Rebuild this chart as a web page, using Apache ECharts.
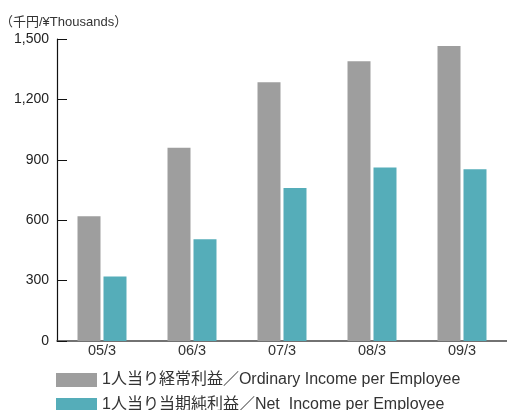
<!DOCTYPE html>
<html>
<head>
<meta charset="utf-8">
<script src="https://cdn.jsdelivr.net/npm/echarts@6/dist/echarts.min.js"></script>
<style>
  html, body { margin: 0; padding: 0; background: #fff; }
  #main { width: 507px; height: 410px; }
</style>
</head>
<body>
<div id="main"></div>
<script>
// 決算期
var categories = ["05/3", "06/3", "07/3", "08/3", "09/3"];
// 1人当り経常利益 (千円)
var ordinaryIncome = [620, 960, 1285, 1390, 1465];
// 1人当り当期純利益 (千円)
var netIncome = [320, 505, 760, 862, 853];
var seriesNames = ["1人当り経常利益／Ordinary Income per Employee", "1人当り当期純利益／Net  Income per Employee"];
var unitLabel = "（千円/¥Thousands）";

var font = "'Liberation Sans', 'Noto Sans CJK JP', sans-serif";
var myChart = echarts.init(document.getElementById("main"));

// 凡例は1行ずつ
function makeLegend(name, top) {
  return {
    left: 56,
    top: top,
    padding: 0,
    itemWidth: 41,
    itemHeight: 14,
    itemGap: 6,
    icon: "rect",
    data: [name],
    textStyle: { fontFamily: font, fontSize: 16, color: "#333" }
  };
}

var option = {
  animation: false,
  title: {
    text: unitLabel,
    left: 0,
    top: 16,
    padding: 0,
    textStyle: { fontFamily: font, fontSize: 13, fontWeight: "normal", color: "#333" }
  },
  legend: [makeLegend(seriesNames[0], 372), makeLegend(seriesNames[1], 397)],
  grid: { left: 57, right: 0, top: 39, bottom: 69 },
  xAxis: {
    type: "category",
    data: categories,
    axisLine: { lineStyle: { color: "#444", width: 1.5 } },
    axisTick: { show: false },
    axisLabel: { fontFamily: font, fontSize: 14.5, color: "#333", margin: 3 }
  },
  yAxis: {
    type: "value",
    min: 0,
    max: 1500,
    interval: 300,
    splitLine: { show: false },
    axisLine: { show: true, lineStyle: { color: "#111", width: 1.2 } },
    axisTick: { show: true, inside: true, length: 10, lineStyle: { color: "#111" } },
    axisLabel: {
      fontFamily: font, fontSize: 14, color: "#222", margin: 8,
      formatter: function (v) { return v.toLocaleString("en-US"); }
    }
  },
  series: [
    {
      name: seriesNames[0],
      type: "bar",
      data: ordinaryIncome,
      barWidth: 23,
      barGap: "13%",
      itemStyle: { color: "#9e9e9e" }
    },
    {
      name: seriesNames[1],
      type: "bar",
      data: netIncome,
      barWidth: 23,
      barGap: "13%",
      itemStyle: { color: "#55adb9" }
    }
  ]
};

option && myChart.setOption(option);
</script>
</body>
</html>
